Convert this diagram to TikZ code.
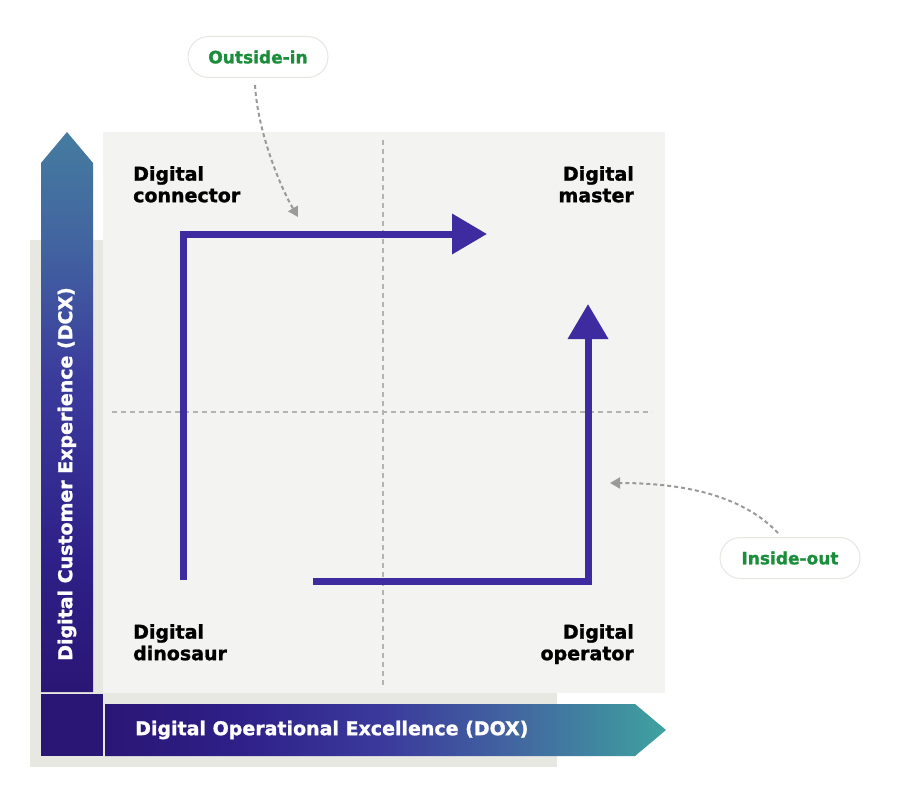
\documentclass[tikz,border=0pt]{standalone}
\usepackage{fontspec}
\setmainfont{DejaVu Sans}[BoldFeatures={FakeBold=1.3}]
\usetikzlibrary{calc,positioning,arrows.meta}

\definecolor{quadgrey}{HTML}{F3F3F2}
\definecolor{backbeige}{HTML}{E8E8E3}
\definecolor{deeppurple}{HTML}{2A1675}
\definecolor{lowpurple}{HTML}{2E2088}
\definecolor{midblue}{HTML}{3B3B9C}
\definecolor{slateblue}{HTML}{4264A0}
\definecolor{topteal}{HTML}{457CA0}
\definecolor{endteal}{HTML}{3FA2A0}
\definecolor{pathpurple}{HTML}{3D2B9F}
\definecolor{callgreen}{HTML}{1B8E3B}
\definecolor{callgrey}{HTML}{9A9A9A}
\definecolor{pillborder}{HTML}{E6E6E1}
\definecolor{gridgrey}{HTML}{B4B4AF}

\pgfdeclarehorizontalshading{doxshade}{100bp}{color(0bp)=(deeppurple); color(25bp)=(deeppurple);
  color(37bp)=(lowpurple); color(50bp)=(midblue); color(61bp)=(slateblue);
  color(75bp)=(endteal); color(100bp)=(endteal)}
\pgfdeclareverticalshading{dcxshade}{100bp}{color(0bp)=(deeppurple); color(25bp)=(deeppurple);
  color(37bp)=(lowpurple); color(53bp)=(midblue); color(65bp)=(slateblue);
  color(75bp)=(topteal); color(100bp)=(topteal)}

\tikzset{
  quadlabel/.style={font=\bfseries\fontsize{19}{21.5}\selectfont,inner sep=0pt},
  axislabel/.style={font=\bfseries\fontsize{19}{21.5}\selectfont,text=white,inner sep=0pt},
  pill/.style={rectangle,rounded corners=20.5pt,draw=pillborder,fill=white,line width=1pt,
    minimum width=140pt,minimum height=41pt,text=callgreen,font=\bfseries\fontsize{17}{20}\selectfont},
  bigpath/.style={draw=pathpurple,line width=7pt,line join=miter,-{Triangle[length=35pt,width=39pt]}},
  callout/.style={draw=callgrey,line width=2pt,dash pattern=on 4pt off 3pt,
    -{Triangle[length=10pt,width=11pt,fill=callgrey]}},
  griddash/.style={draw=gridgrey,line width=1.2pt,dash pattern=on 5pt off 4pt},
}

\begin{document}
\begin{tikzpicture}[x=1pt,y=-1pt]

  \useasboundingbox (0,0) rectangle (899,797);

  %% back panels
  \fill[backbeige] (30,240) rectangle (557,767);
  \fill[quadgrey] (103,132) rectangle (665,693);

  %% axes
  \shade[shading=dcxshade]
    (41,692) -- (41,163) -- (67,132) -- (93,163) -- (93,692) -- cycle;
  \shade[shading=doxshade]
    (105,704) -- (635,704) -- (666,730) -- (635,756) -- (105,756) -- cycle;
  \fill[deeppurple] (41,694) rectangle (103,756);

  \node (dcx) [axislabel,rotate=90] at(67,474) {Digital Customer Experience (DCX)};
  \node (dox) [axislabel,anchor=west] at(135,730) {Digital Operational Excellence (DOX)};

  %% quadrant split
  \draw[griddash] (383,140) -- (383,688);
  \draw[griddash] (112,412) -- (652,412);

  \foreach \qname/\qx/\qy/\qanchor/\qalign/\qtext in
           {connector/133/166/north west/left/{Digital\\connector},
            master/634/166/north east/right/{Digital\\master},
            dinosaur/133/624/north west/left/{Digital\\dinosaur},
            operator/634/624/north east/right/{Digital\\operator}}
           {
             \node (quad_\qname) [quadlabel,anchor=\qanchor,align=\qalign] at(\qx,\qy) {\qtext};
           }

  %% the two routes
  \coordinate (oi_start) at(183,580);
  \coordinate (oi_corner) at(183,234);
  \coordinate (oi_end) at(487,234);
  \draw[bigpath] (oi_start) -- (oi_corner) -- (oi_end);

  \coordinate (io_start) at(313,581);
  \coordinate (io_corner) at(588,581);
  \coordinate (io_end) at(588,304);
  \draw[bigpath] (io_start) -- (io_corner) -- (io_end);

  %% callouts
  \node (oi_pill) [pill] at(258,57) {Outside-in};
  \node (io_pill) [pill] at(790,558) {Inside-out};

  \coordinate (oi_tip) at(298,217);
  \coordinate (io_tip) at(610,483);
  \draw[callout] ($(oi_pill.south)+(-3,7)$) .. controls (258,135) and (282,190) .. (oi_tip);
  \draw[callout] ($(io_pill.north)+(-12,-4)$) .. controls (745,498) and (690,483) .. (io_tip);

\end{tikzpicture}
\end{document}
